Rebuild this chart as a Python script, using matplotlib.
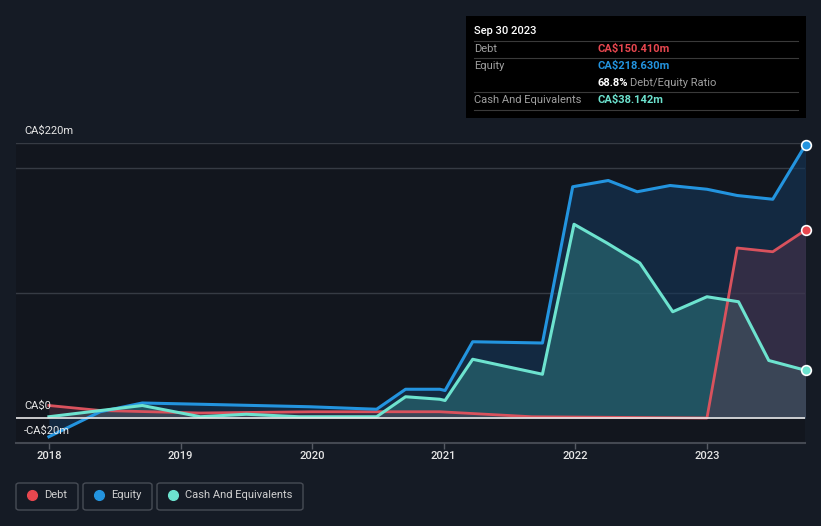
import matplotlib
matplotlib.use("Agg")
import matplotlib.pyplot as plt
from matplotlib.patches import Rectangle, FancyBboxPatch
import numpy as np

plt.rcParams['font.family'] = ['Roboto', 'DejaVu Sans']

W, H = 821, 526
BG = '#151b25'

# data (CA$ millions), x in decimal years
equity_t = [2018.0, 2018.39, 2018.71, 2019.15, 2019.98, 2020.49, 2020.71, 2020.97, 2021.01,
            2021.22, 2021.75, 2021.98, 2022.25, 2022.47, 2022.72, 2023.0, 2023.23, 2023.5, 2023.75]
equity_v = [-15, 5, 12, 11, 9, 7, 23, 23, 22, 61, 60, 185, 190, 181, 186, 183, 178, 175, 218.63]

cash_t = [2018.0, 2018.71, 2019.15, 2019.5, 2019.9, 2020.49, 2020.71, 2020.97, 2021.01,
          2021.22, 2021.75, 2021.99, 2022.24, 2022.49, 2022.74, 2023.0, 2023.24, 2023.47, 2023.75]
cash_v = [1, 10, 1, 3, 1, 1, 17, 15, 14, 47, 35, 155, 140, 124, 85, 97, 93, 46, 38.142]

debt_t = [2018.0, 2018.39, 2019.15, 2020.0, 2020.97, 2021.67, 2023.0, 2023.23, 2023.5, 2023.75]
debt_v = [10, 6, 4, 5, 5, 1, 0, 136, 133, 150.41]

years = [2018, 2019, 2020, 2021, 2022, 2023]

C_DEBT = '#e8474f'
C_EQ = '#2394df'
C_CASH = '#6de3cf'

fig = plt.figure(figsize=(W / 100, H / 100), dpi=100, facecolor=BG)


def fx(x):
    return x / W


def fy(y):
    return 1 - y / H


ax = fig.add_axes([fx(16), fy(443), fx(805) - fx(16), fy(143) - fy(443)])
ax.set_facecolor('#12161e')
ax.set_xlim(2017.75, 2023.745)
ax.set_ylim(-20, 220)
for s in ax.spines.values():
    s.set_visible(False)
ax.set_yticks([])
ax.set_xticks(years)
ax.set_xticklabels([])
ax.tick_params(axis='x', length=4, color='#555a63', width=1)

for g in [100, 200, 220]:
    ax.axhline(g, color='#363b44', lw=1, zorder=1)
ax.axhline(-20, color='#444952', lw=1.5, zorder=1, clip_on=False)

ax.fill_between(equity_t, equity_v, 0, color='#14375a', alpha=0.6, lw=0, zorder=2)
ax.fill_between(cash_t, cash_v, 0, color='#2d767c', alpha=0.55, lw=0, zorder=3)
ax.fill_between(debt_t, debt_v, 0, color='#5a344a', alpha=0.45, lw=0, zorder=3)

ax.plot(debt_t, debt_v, color='#d9525d', lw=2, zorder=5, solid_joinstyle='round')
ax.plot(equity_t, equity_v, color=C_EQ, lw=2.2, zorder=6, solid_joinstyle='round')
ax.plot(cash_t, cash_v, color=C_CASH, lw=2.2, zorder=7, solid_joinstyle='round')
ax.axhline(0, color='#e8e8e8', lw=1.2, zorder=8)

for t, v, c in [(debt_t[-1], debt_v[-1], C_DEBT), (equity_t[-1], equity_v[-1], C_EQ),
                (cash_t[-1], cash_v[-1], C_CASH)]:
    ax.plot([t], [v], 'o', ms=7, color=c, mec='white', mew=1.2, zorder=9, clip_on=False)

# y labels
for y, s in [(131, 'CA$220m'), (406, 'CA$0'), (431, '-CA$20m')]:
    fig.text(fx(24), fy(y), s, color='#e6e6e6', fontsize=8, va='center', ha='left', zorder=10)

# x labels
for yr in years:
    xp = 16 + (yr - 2017.75) / (2023.745 - 2017.75) * (805 - 16)
    fig.text(fx(xp), fy(456), str(yr), color='#e6e6e6', fontsize=8, ha='center', va='center',
             fontweight='medium')

# tooltip box
fig.patches.append(Rectangle((fx(466), fy(118)), fx(806) - fx(466), fy(16) - fy(118),
                             transform=fig.transFigure, facecolor='#000000', edgecolor='none', zorder=20))
fig.text(fx(474), fy(31), 'Sep 30 2023', color='white', fontsize=8, va='center', zorder=21,
         fontweight='medium')
for yl in [41, 58, 92, 110]:
    fig.add_artist(plt.Line2D([fx(474), fx(798)], [fy(yl), fy(yl)], color='#3a3a3a', lw=0.8, zorder=21))
rows = [(49, 'Debt', 'CA$150.410m', C_DEBT),
        (66, 'Equity', 'CA$218.630m', C_EQ),
        (100, 'Cash And Equivalents', 'CA$38.142m', C_CASH)]
for y, lab, val, c in rows:
    fig.text(fx(474), fy(y), lab, color='#a0a0a0', fontsize=8, va='center', zorder=21)
    fig.text(fx(597), fy(y), val, color=c, fontsize=8, va='center', zorder=21, fontweight='bold')
fig.text(fx(597), fy(83), '68.8%', color='white', fontsize=8, va='center', zorder=21,
         fontweight='bold')
fig.text(fx(630), fy(83), 'Debt/Equity Ratio', color='#a0a0a0', fontsize=8, va='center', zorder=21)

# legend
leg = [(16, 78, 'Debt', C_DEBT), (83, 152, 'Equity', C_EQ), (157, 303, 'Cash And Equivalents', C_CASH)]
for x0, x1, lab, c in leg:
    fig.patches.append(FancyBboxPatch((fx(x0), fy(510)), fx(x1) - fx(x0), fy(483) - fy(510),
                                      boxstyle='round,pad=0,rounding_size=0.004',
                                      transform=fig.transFigure, facecolor='none',
                                      edgecolor='#474c55', lw=1, zorder=20))
    fig.add_artist(plt.Line2D([fx(x0 + 16)], [fy(495)], marker='o', ms=7, color=c, lw=0, zorder=21))
    fig.text(fx(x0 + 28), fy(495), lab, color='#d0d0d0', fontsize=8, va='center', zorder=21)

fig.savefig('out.png', dpi=100, facecolor=BG)
